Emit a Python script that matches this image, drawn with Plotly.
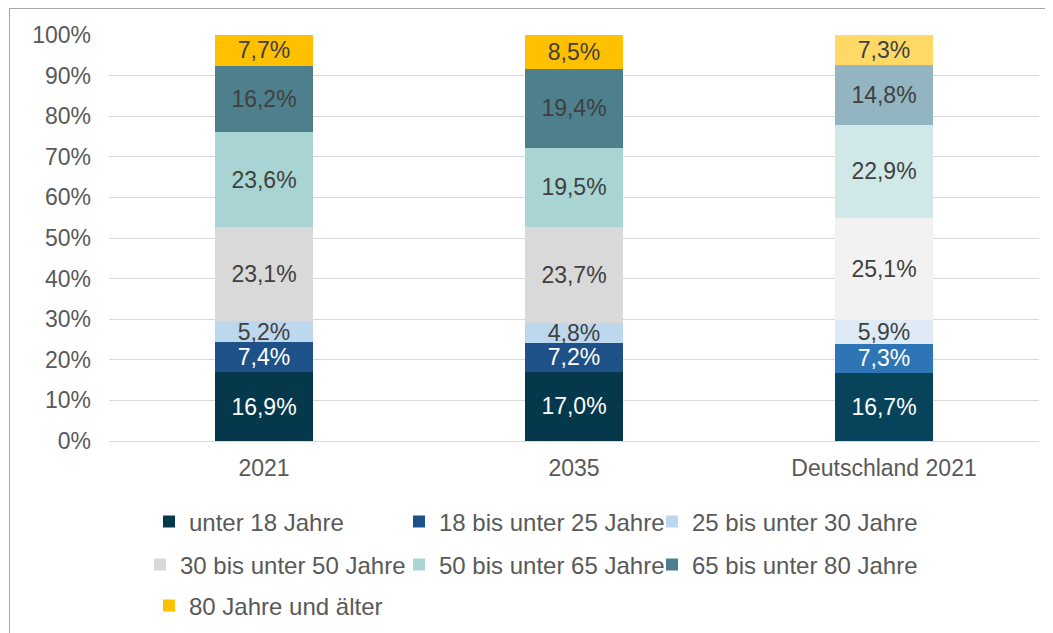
import plotly.graph_objects as go

categories = ["2021", "2035", "Deutschland 2021"]
series_names = [
    "unter 18 Jahre",
    "18 bis unter 25 Jahre",
    "25 bis unter 30 Jahre",
    "30 bis unter 50 Jahre",
    "50 bis unter 65 Jahre",
    "65 bis unter 80 Jahre",
    "80 Jahre und älter",
]
v_unter18 = [16.9, 17.0, 16.7]
v_18_25 = [7.4, 7.2, 7.3]
v_25_30 = [5.2, 4.8, 5.9]
v_30_50 = [23.1, 23.7, 25.1]
v_50_65 = [23.6, 19.5, 22.9]
v_65_80 = [16.2, 19.4, 14.8]
v_80 = [7.7, 8.5, 7.3]
values = [v_unter18, v_18_25, v_25_30, v_30_50, v_50_65, v_65_80, v_80]

# colours: [main, main, Deutschland (lighter)]
colors = [
    ["#06384C", "#06384C", "#07445C"],
    ["#1F5189", "#1F5189", "#2E75B6"],
    ["#BDD7EE", "#BDD7EE", "#DEEBF7"],
    ["#D9D9D9", "#D9D9D9", "#F2F2F2"],
    ["#A8D5D3", "#A8D5D3", "#D0E9E8"],
    ["#4E7F8D", "#4E7F8D", "#93B5C2"],
    ["#FFC000", "#FFC000", "#FFD966"],
]
text_colors = ["white", "white", "#404040", "#404040", "#404040", "#404040", "#404040"]
legend_ids = ["legend", "legend2", "legend3", "legend4", "legend5", "legend6", "legend7"]

FONT = "Liberation Sans, Arial, sans-serif"
FS = 23
LFS = 24

fig = go.Figure()
for name, vals, cols, tc, lg in zip(series_names, values, colors, text_colors, legend_ids):
    fig.add_trace(go.Bar(
        name=name,
        x=categories,
        y=vals,
        marker=dict(color=cols, line=dict(width=0)),
        text=[f"{v:.1f}%".replace(".", ",") for v in vals],
        textposition="inside",
        insidetextanchor="middle",
        textangle=0,
        constraintext="none",
        textfont=dict(size=FS, color=tc, family=FONT),
        legend=lg,
        showlegend=True,
        hoverinfo="skip",
    ))

# page has an 8px body margin: figure coordinates = page coordinates - 8
OFF = 8
FIG_W, FIG_H = 1053 - OFF, 633 - OFF
L, T, W, H = 109 - OFF, 35 - OFF, 930, 406

def lx(px):
    return (px - OFF - L) / W

def ly(py):
    return (T + H - (py - OFF)) / H

legend_common = dict(
    orientation="h",
    xanchor="left",
    yanchor="middle",
    itemwidth=30,
    font=dict(size=LFS, color="#595959", family=FONT),
    bgcolor="rgba(0,0,0,0)",
)

# text start x and row centre y (page pixels) for each legend entry
TXT_OFF = 41
legend_pos = [(190, 522), (440, 522), (693, 522),
              (181, 565), (440, 565), (693, 565),
              (190, 606)]
legend_layout = {}
for lg, (tx, ty) in zip(legend_ids, legend_pos):
    legend_layout[lg] = dict(x=lx(tx - TXT_OFF), y=ly(ty), **legend_common)

fig.update_layout(
    barmode="stack",
    bargap=0.687,
    width=FIG_W,
    height=FIG_H,
    showlegend=True,
    margin=dict(l=L, r=FIG_W - L - W, t=T, b=FIG_H - T - H, autoexpand=False),
    plot_bgcolor="white",
    paper_bgcolor="white",
    font=dict(family=FONT, color="#595959"),
    uniformtext=dict(minsize=FS, mode="show"),
    xaxis=dict(
        showline=False,
        tickfont=dict(size=FS, color="#595959"),
        ticks="",
        ticklabelstandoff=11,
    ),
    yaxis=dict(
        range=[0, 100],
        dtick=10,
        ticksuffix="%",
        showgrid=True,
        gridcolor="#D9D9D9",
        gridwidth=1,
        zeroline=True,
        zerolinecolor="#D9D9D9",
        zerolinewidth=1,
        tickfont=dict(size=FS, color="#595959"),
        ticklabelstandoff=17,
        showline=False,
    ),
    shapes=[
        dict(type="line", xref="paper", yref="paper",
             x0=lx(9.5), x1=lx(9.5), y0=ly(8.5), y1=ly(700),
             line=dict(color="#A6A6A6", width=1)),
        dict(type="line", xref="paper", yref="paper",
             x0=lx(9.5), x1=lx(1100), y0=ly(8.5), y1=ly(8.5),
             line=dict(color="#A6A6A6", width=1)),
    ],
    **legend_layout,
)

fig.write_html("out.html")
